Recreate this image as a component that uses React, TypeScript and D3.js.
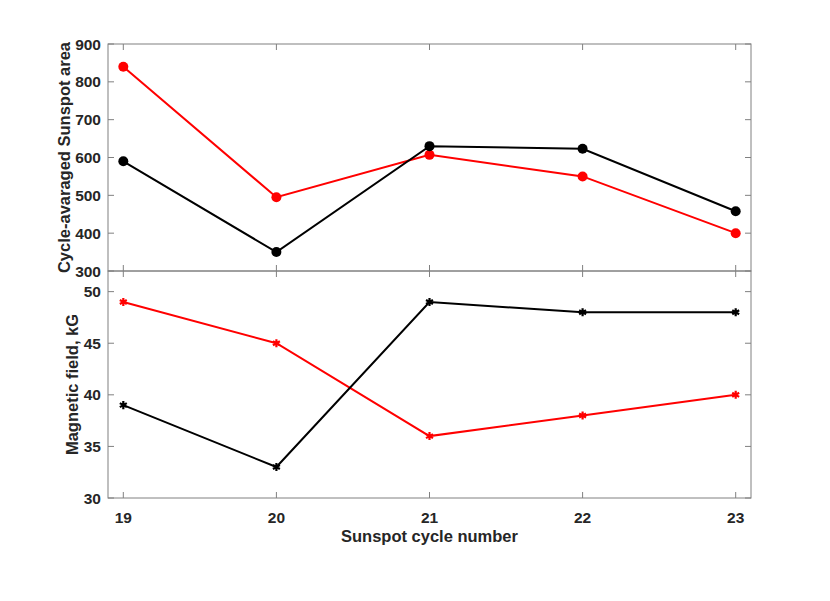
import React, { useRef, useEffect } from 'react';
import * as d3 from 'd3';

const cycles = [19, 20, 21, 22, 23];
const areaBlack = [590, 350, 630, 623, 458];
const areaRed = [840, 495, 607, 550, 400];
const fieldBlack = [39, 33, 49, 48, 48];
const fieldRed = [49, 45, 36, 38, 40];
const areaTicks = [300, 400, 500, 600, 700, 800, 900];
const fieldTicks = [30, 35, 40, 45, 50];

export default function App() {
  const svgRef = useRef<SVGSVGElement>(null);

  useEffect(() => {
    const svg = d3.select(svgRef.current);
    svg.selectAll('*').remove();

    const width = 830;
    const height = 601;
    svg.attr('width', width).attr('height', height);

    const left = 108;
    const right = 751;
    const axisColor = '#262626';
    const boxColor = '#808080';
    const font = 'Liberation Sans, Arial, sans-serif';

    const x = d3.scaleLinear().domain([18.9, 23.1]).range([left, right]);

    const panels = [
      {
        top: 44, bottom: 271, domain: [300, 900], ticks: areaTicks,
        series: [{ v: areaRed, c: '#ff0000' }, { v: areaBlack, c: '#000000' }],
        marker: 'circle', label: 'Cycle-avaraged Sunspot area', labelX: 64, xLabels: false
      },
      {
        top: 271, bottom: 498, domain: [30, 52], ticks: fieldTicks,
        series: [{ v: fieldRed, c: '#ff0000' }, { v: fieldBlack, c: '#000000' }],
        marker: 'asterisk', label: 'Magnetic field, kG', labelX: 72, xLabels: true
      }
    ];

    panels.forEach(p => {
      const y = d3.scaleLinear().domain(p.domain).range([p.bottom, p.top]);
      const g = svg.append('g');

      // box
      g.append('rect')
        .attr('x', left).attr('y', p.top)
        .attr('width', right - left).attr('height', p.bottom - p.top)
        .attr('fill', 'none').attr('stroke', boxColor).attr('stroke-width', 1);

      // y ticks (left and right, inward)
      p.ticks.forEach(t => {
        g.append('line').attr('x1', left).attr('x2', left + 6)
          .attr('y1', y(t)).attr('y2', y(t)).attr('stroke', boxColor);
        g.append('line').attr('x1', right).attr('x2', right - 6)
          .attr('y1', y(t)).attr('y2', y(t)).attr('stroke', boxColor);
        g.append('text')
          .attr('x', left - 7).attr('y', y(t))
          .attr('text-anchor', 'end').attr('dominant-baseline', 'central')
          .attr('font-family', font).attr('font-size', 15.5).attr('font-weight', 'bold')
          .attr('fill', axisColor).text(t);
      });

      // x ticks (bottom and top, inward)
      cycles.forEach(c => {
        g.append('line').attr('x1', x(c)).attr('x2', x(c))
          .attr('y1', p.bottom).attr('y2', p.bottom - 6).attr('stroke', boxColor);
        g.append('line').attr('x1', x(c)).attr('x2', x(c))
          .attr('y1', p.top).attr('y2', p.top + 6).attr('stroke', boxColor);
        if (p.xLabels) {
          g.append('text')
            .attr('x', x(c)).attr('y', p.bottom + 19)
            .attr('text-anchor', 'middle').attr('dominant-baseline', 'central')
            .attr('font-family', font).attr('font-size', 15.5).attr('font-weight', 'bold')
            .attr('fill', axisColor).text(c);
        }
      });

      // y label
      g.append('text')
        .attr('transform', `translate(${p.labelX},${(p.top + p.bottom) / 2}) rotate(-90)`)
        .attr('text-anchor', 'middle').attr('dominant-baseline', 'central')
        .attr('font-family', font).attr('font-size', 16.5).attr('font-weight', 'bold')
        .attr('fill', axisColor).text(p.label);

      const line = d3.line<number>().x((_, i) => x(cycles[i])).y(d => y(d));

      p.series.forEach(s => {
        g.append('path').datum(s.v)
          .attr('d', line)
          .attr('fill', 'none').attr('stroke', s.c).attr('stroke-width', 2);

        if (p.marker === 'circle') {
          g.selectAll(null).data(s.v).enter().append('circle')
            .attr('cx', (_, i) => x(cycles[i])).attr('cy', d => y(d))
            .attr('r', 5).attr('fill', s.c);
        } else {
          const sym = d3.symbol().type(d3.symbolAsterisk).size(45);
          g.selectAll(null).data(s.v).enter().append('path')
            .attr('transform', (d, i) => `translate(${x(cycles[i])},${y(d)})`)
            .attr('d', sym())
            .attr('fill', 'none').attr('stroke', s.c).attr('stroke-width', 2.2);
        }
      });
    });

    svg.append('text')
      .attr('x', (left + right) / 2).attr('y', 536)
      .attr('text-anchor', 'middle').attr('dominant-baseline', 'central')
      .attr('font-family', font).attr('font-size', 16.5).attr('font-weight', 'bold')
      .attr('fill', axisColor).text('Sunspot cycle number');
  }, []);

  return (
    <div style={{ position: 'absolute', left: 0, top: 0 }}>
      <svg ref={svgRef} />
    </div>
  );
}
